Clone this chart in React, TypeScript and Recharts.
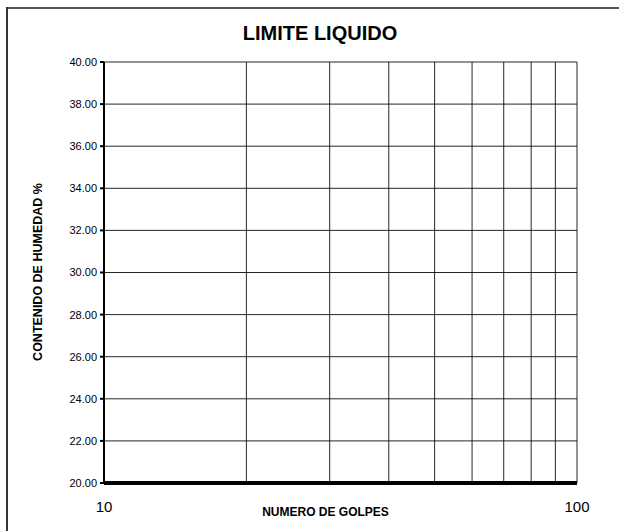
import React from 'react';
import { LineChart, Line, XAxis, YAxis, CartesianGrid, Label } from 'recharts';

const xGridTicks = [10, 20, 30, 40, 50, 60, 70, 80, 90, 100];
const xLabeledTicks = [10, 100];
const yTicks = [20, 22, 24, 26, 28, 30, 32, 34, 36, 38, 40];
const golpes: number[] = [];
const humedad: number[] = [];
const data = golpes.map((g, i) => ({ g, h: humedad[i] }));

const FONT = 'Arial, "Liberation Sans", sans-serif';

export default function App() {
  return (
    <div style={{ position: 'absolute', left: 0, top: 0, width: 619, height: 531, background: '#fff' }}>
      <div style={{ position: 'absolute', left: 6, top: 7, width: 613, height: 0, borderTop: '2px solid #555' }} />
      <div style={{ position: 'absolute', left: 6, top: 7, width: 0, height: 524, borderLeft: '2px solid #333' }} />
      <div style={{ position: 'absolute', left: 0, top: 22, width: 640, textAlign: 'center', fontFamily: FONT, fontWeight: 'bold', fontSize: 20, color: '#000' }}>
        LIMITE LIQUIDO
      </div>
      <LineChart
        width={619}
        height={531}
        data={data}
        margin={{ top: 62, right: 42, bottom: 8, left: 44 }}
        style={{ position: 'absolute', left: 0, top: 0 }}
      >
        <CartesianGrid stroke="#000" strokeOpacity={0.85} strokeWidth={1} />
        <XAxis
          type="number"
          dataKey="g"
          scale="log"
          domain={[10, 100]}
          ticks={xGridTicks}
          interval={0}
          allowDataOverflow
          height={40}
          tickLine={false}
          axisLine={{ stroke: '#000', strokeWidth: 4 }}
          tickMargin={12}
          tick={{ fontFamily: FONT, fontSize: 15, fill: '#000' }}
          tickFormatter={(v: number) => (xLabeledTicks.includes(v) ? String(v) : '')}
        >
          <Label
            content={(p: any) => {
              const vb = p.viewBox || {};
              return (
                <text x={vb.x + vb.width / 2 - 15} y={vb.y + 33} textAnchor="middle" fontFamily={FONT} fontWeight="bold" fontSize={12} fill="#000">
                  NUMERO DE GOLPES
                </text>
              );
            }}
          />
        </XAxis>
        <YAxis
          type="number"
          dataKey="h"
          domain={[20, 40]}
          ticks={yTicks}
          interval={0}
          allowDataOverflow
          width={60}
          tickSize={4}
          tickLine={{ stroke: '#000', strokeWidth: 2 }}
          axisLine={{ stroke: '#000', strokeWidth: 2 }}
          tickMargin={3}
          tick={{ fontFamily: FONT, fontSize: 11, fill: '#000' }}
          tickFormatter={(v: number) => v.toFixed(2)}
        >
          <Label
            content={() => (
              <text x={42} y={272} transform="rotate(-90 42 272)" textAnchor="middle" fontFamily={FONT} fontWeight="bold" fontSize={12.5} fill="#000">
                CONTENIDO DE HUMEDAD %
              </text>
            )}
          />
        </YAxis>
        <Line dataKey="h" stroke="#000" isAnimationActive={false} />
      </LineChart>
    </div>
  );
}
